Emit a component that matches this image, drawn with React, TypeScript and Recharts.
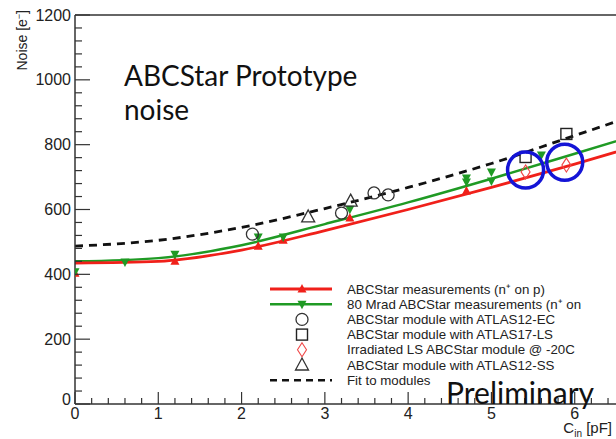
import { ComposedChart, Line, Scatter, XAxis, YAxis, ReferenceLine, Legend } from "recharts"

// fit curves at integer C_in
const fitX = [0, 1, 2, 3, 4, 5, 6, 7]
const fitRed = [435, 440, 475, 535, 600, 668, 740, 815]
const fitGreen = [440, 450, 490, 555, 622, 695, 772, 850]
const fitModules = [487, 505, 545, 603, 668, 742, 828, 915]

// ABCStar measurements (n+ on p)
const redX = [0, 1.2, 2.2, 2.5, 3.3, 4.7]
const redY = [403, 440, 487, 505, 574, 657]
// 80 Mrad ABCStar measurements
const greenX = [0, 0.6, 1.2, 2.2, 2.5, 3.3, 4.7, 4.7, 5.0, 5.0, 5.6]
const greenY = [408, 438, 462, 515, 515, 601, 697, 685, 716, 688, 768]
// modules
const ecX = [2.13, 3.2, 3.59, 3.76]
const ecY = [524, 589, 651, 645]
const lsX = [5.41, 5.9]
const lsY = [762, 833]
const irrX = [5.41, 5.9]
const irrY = [716, 737]
const ssX = [2.8, 3.31]
const ssY = [577, 626]
// blue highlight rings
const ringX = [5.41, 5.88]
const ringY = [722, 746]

const xTicks = [
  0, 0.2, 0.4, 0.6, 0.8, 1, 1.2, 1.4, 1.6, 1.8, 2, 2.2, 2.4, 2.6, 2.8, 3, 3.2, 3.4, 3.6, 3.8,
  4, 4.2, 4.4, 4.6, 4.8, 5, 5.2, 5.4, 5.6, 5.8, 6, 6.2, 6.4, 6.6, 6.8,
]
const yTicks = [
  0, 40, 80, 120, 160, 200, 240, 280, 320, 360, 400, 440, 480, 520, 560, 600, 640, 680, 720, 760,
  800, 840, 880, 920, 960, 1000, 1040, 1080, 1120, 1160, 1200,
]

const legendRows = [
  { kind: "red", label: "ABCStar measurements (n⁺ on p)" },
  { kind: "green", label: "80 Mrad ABCStar measurements (n⁺ on" },
  { kind: "circle", label: "ABCStar module with ATLAS12-EC" },
  { kind: "square", label: "ABCStar module with ATLAS17-LS" },
  { kind: "diamond", label: "Irradiated LS ABCStar module @ -20C" },
  { kind: "triangle", label: "ABCStar module with ATLAS12-SS" },
  { kind: "dashed", label: "Fit to modules" },
]

const RED = "#f0201a"
const GREEN = "#1f9a24"
const AXIS = "#333"
const FONT = "'Liberation Sans', Arial, sans-serif"

const zip = (xs: number[], ys: number[]) => xs.map((x, i) => ({ x, y: ys[i] }))

function TriUp({ cx, cy, fill }: any) {
  return <path d={`M${cx},${cy - 5} L${cx + 4.5},${cy + 3.5} L${cx - 4.5},${cy + 3.5} Z`} fill={fill} />
}
function TriDown({ cx, cy, fill }: any) {
  return <path d={`M${cx},${cy + 5} L${cx + 4.5},${cy - 3.5} L${cx - 4.5},${cy - 3.5} Z`} fill={fill} />
}
function OpenCircle({ cx, cy }: any) {
  return <circle cx={cx} cy={cy} r={6} fill="none" stroke={AXIS} strokeWidth={1.3} />
}
function OpenSquare({ cx, cy }: any) {
  return <rect x={cx - 5.5} y={cy - 5.5} width={11} height={11} fill="none" stroke="#222" strokeWidth={1.4} />
}
function OpenDiamond({ cx, cy }: any) {
  return <path d={`M${cx},${cy - 7} L${cx + 4.5},${cy} L${cx},${cy + 7} L${cx - 4.5},${cy} Z`} fill="none" stroke="#f04848" strokeWidth={1.1} />
}
function OpenTriangle({ cx, cy }: any) {
  return <path d={`M${cx},${cy - 7} L${cx + 6.5},${cy + 5} L${cx - 6.5},${cy + 5} Z`} fill="none" stroke={AXIS} strokeWidth={1.3} />
}
function Ring({ cx, cy }: any) {
  return <circle cx={cx} cy={cy} r={18} fill="none" stroke="#1414d6" strokeWidth={3.5} />
}

function YTick({ x, y, payload }: any) {
  const v = payload.value
  const major = v % 200 === 0
  return (
    <g>
      <line x1={x} x2={x + (major ? 15 : 7)} y1={y} y2={y} stroke={AXIS} strokeWidth={1.2} />
      {major && (
        <text x={x - 4} y={v === 0 ? y - 5 : y} textAnchor="end" dominantBaseline="central" fontSize={16} fill="#222" fontFamily={FONT}>
          {v}
        </text>
      )}
    </g>
  )
}

function XTick({ x, y, payload }: any) {
  const v = payload.value
  const major = Math.abs(v - Math.round(v)) < 1e-6
  return (
    <g>
      <line x1={x} x2={x} y1={y} y2={y - (major ? 12 : 6)} stroke={AXIS} strokeWidth={1.2} />
      {major && (
        <text x={x} y={y + 9} textAnchor="middle" dominantBaseline="central" fontSize={16} fill="#222" fontFamily={FONT}>
          {Math.round(v)}
        </text>
      )}
    </g>
  )
}

function LegendBox() {
  return (
    <svg width={400} height={110}>
      {legendRows.map((r, i) => {
        const y = 10 + i * 15.2
        return (
          <g key={r.label}>
            {r.kind === "red" && <line x1={8} x2={70} y1={y} y2={y} stroke={RED} strokeWidth={3} />}
            {r.kind === "red" && <TriUp cx={40} cy={y} fill={RED} />}
            {r.kind === "green" && <line x1={8} x2={70} y1={y} y2={y} stroke={GREEN} strokeWidth={2.5} />}
            {r.kind === "green" && <TriDown cx={40} cy={y} fill={GREEN} />}
            {r.kind === "circle" && <OpenCircle cx={40} cy={y} />}
            {r.kind === "square" && <OpenSquare cx={40} cy={y} />}
            {r.kind === "diamond" && <OpenDiamond cx={40} cy={y} />}
            {r.kind === "triangle" && <OpenTriangle cx={40} cy={y} />}
            {r.kind === "dashed" && <line x1={8} x2={70} y1={y} y2={y} stroke="#111" strokeWidth={2.5} strokeDasharray="7 5" />}
            <text x={85} y={y} dominantBaseline="central" fontSize={13.3} fill="#222" fontFamily={FONT}>
              {r.label}
            </text>
          </g>
        )
      })}
    </svg>
  )
}

export default function App() {
  return (
    <div style={{ position: "absolute", left: 0, top: 0, width: 616, height: 439, overflow: "hidden", background: "#fff" }}>
      <ComposedChart width={680} height={439} margin={{ top: 15, right: 22, left: 0, bottom: 0 }}>
        <XAxis
          dataKey="x"
          type="number"
          domain={[0, 7]}
          ticks={xTicks}
          interval={0}
          tickSize={0}
          tickMargin={0}
          tickLine={false}
          tick={(p: any) => <XTick {...p} />}
          height={35}
          axisLine={{ stroke: AXIS, strokeWidth: 1.5 }}
          allowDataOverflow
          label={{
            position: "insideBottomRight",
            content: () => (
              <text x={612} y={433} textAnchor="end" fontSize={15} fill="#222" fontFamily={FONT}>
                C<tspan fontSize={10} dy={4}>in</tspan>
                <tspan dy={-4}> [pF]</tspan>
              </text>
            ),
          }}
        />
        <YAxis
          dataKey="y"
          type="number"
          domain={[0, 1200]}
          ticks={yTicks}
          interval={0}
          tickSize={0}
          tickMargin={0}
          tickLine={false}
          tick={(p: any) => <YTick {...p} />}
          width={75}
          axisLine={{ stroke: AXIS, strokeWidth: 1.5 }}
          allowDataOverflow
          label={{
            position: "insideTopLeft",
            content: () => (
              <text transform="translate(27,10) rotate(-90)" textAnchor="end" fontSize={14} fill="#222" fontFamily={FONT}>
                Noise [e<tspan fontSize={9} dy={-5}>−</tspan>
                <tspan dy={5}>]</tspan>
              </text>
            ),
          }}
        />
        <ReferenceLine y={1200} stroke={AXIS} strokeWidth={1.5} />
        <Line data={zip(fitX, fitModules)} dataKey="y" type="monotone" stroke="#111" strokeWidth={2.8} strokeDasharray="8 6" dot={false} isAnimationActive={false} />
        <Line data={zip(fitX, fitGreen)} dataKey="y" type="monotone" stroke={GREEN} strokeWidth={2.5} dot={false} isAnimationActive={false} />
        <Line data={zip(fitX, fitRed)} dataKey="y" type="monotone" stroke={RED} strokeWidth={2.8} dot={false} isAnimationActive={false} />
        <Scatter data={zip(redX, redY)} shape={(p: any) => <TriUp cx={p.cx} cy={p.cy} fill={RED} />} isAnimationActive={false} />
        <Scatter data={zip(greenX, greenY)} shape={(p: any) => <TriDown cx={p.cx} cy={p.cy} fill={GREEN} />} isAnimationActive={false} />
        <Scatter data={zip(ecX, ecY)} shape={(p: any) => <OpenCircle cx={p.cx} cy={p.cy} />} isAnimationActive={false} />
        <Scatter data={zip(lsX, lsY)} shape={(p: any) => <OpenSquare cx={p.cx} cy={p.cy} />} isAnimationActive={false} />
        <Scatter data={zip(irrX, irrY)} shape={(p: any) => <OpenDiamond cx={p.cx} cy={p.cy} />} isAnimationActive={false} />
        <Scatter data={zip(ssX, ssY)} shape={(p: any) => <OpenTriangle cx={p.cx} cy={p.cy} />} isAnimationActive={false} />
        <Scatter data={zip(ringX, ringY)} shape={(p: any) => <Ring cx={p.cx} cy={p.cy} />} isAnimationActive={false} />
        <Legend
          layout="vertical"
          align="center"
          verticalAlign="middle"
          content={() => <LegendBox />}
          wrapperStyle={{ left: 262, top: 279, width: 400, height: 110 }}
        />
      </ComposedChart>
      <div style={{ position: "absolute", left: 124, top: 58, fontFamily: "Lato, sans-serif", fontSize: 28, lineHeight: "34px", color: "#111" }}>
        ABCStar Prototype
        <br />
        noise
      </div>
      <div style={{ position: "absolute", left: 446, top: 378, fontFamily: "Lato, sans-serif", fontSize: 30, lineHeight: "28px", color: "#111" }}>
        Preliminary
      </div>
    </div>
  )
}
